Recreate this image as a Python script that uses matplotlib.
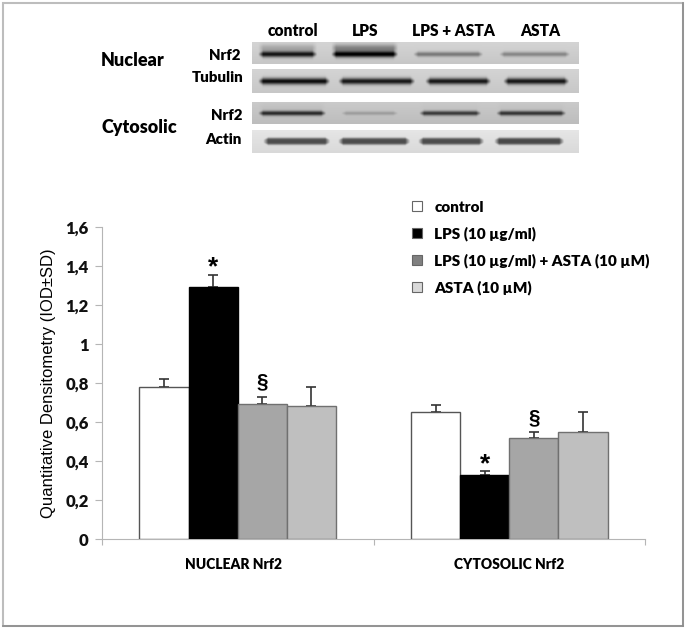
import numpy as np
import matplotlib
matplotlib.use('Agg')
import matplotlib.pyplot as plt
from matplotlib.patches import Patch, Rectangle

plt.rcParams['font.family'] = ['Lato', 'DejaVu Sans']

# bar chart data
groups = ['NUCLEAR Nrf2', 'CYTOSOLIC Nrf2']
treatments = ['control', 'LPS (10 µg/ml)', 'LPS (10 µg/ml) + ASTA (10 µM)', 'ASTA (10 µM)']
nuclear = [0.78, 1.29, 0.69, 0.68]
nuclear_sd = [0.04, 0.065, 0.04, 0.10]
cytosolic = [0.65, 0.33, 0.52, 0.55]
cytosolic_sd = [0.035, 0.017, 0.03, 0.10]
nuclear_marks = ['', '*', '§', '']
cytosolic_marks = ['', '*', '§', '']
yticks = [0, 0.2, 0.4, 0.6, 0.8, 1, 1.2, 1.4, 1.6]
yticklabels = ['0', '0,2', '0,4', '0,6', '0,8', '1', '1,2', '1,4', '1,6']

# western blot band strength, one value per lane
lanes = ['control', 'LPS', 'LPS + ASTA', 'ASTA']
blot_names = ['Nrf2', 'Tubulin', 'Nrf2', 'Actin']
nrf2_nuc = [0.9, 1.0, 0.42, 0.35]
tubulin = [0.95, 0.9, 0.9, 0.9]
nrf2_cyt = [0.8, 0.2, 0.72, 0.75]
actin = [0.66, 0.66, 0.66, 0.68]

bar_colors = ['white', 'black', '#a6a6a6', '#bfbfbf']
bar_edges = ['#555555', 'black', '#707070', '#707070']
legend_colors = ['white', 'black', '#808080', '#d9d9d9']

W, H = 686, 630
fig = plt.figure(figsize=(W / 100, H / 100), dpi=100)

# whole figure in pixel coordinates, for frame and blots
bg = fig.add_axes([0, 0, 1, 1])
bg.set_xlim(0, W)
bg.set_ylim(H, 0)
bg.axis('off')
bg.add_patch(Rectangle((2.5, 3), 680, 623, fill=False, ec='#bdbdbd', lw=1.5))
bg.plot([683, 683], [3, 626], color='#8c8c8c', lw=1.2)
bg.plot([2.5, 683], [626, 626], color='#8c8c8c', lw=1.2)


def draw_blot(top, bottom, center, thick, back, strength, starts, ends, power=2, halo=0.0):
    ys = np.arange(top, bottom, 0.5)
    xs = np.arange(252, 579, 0.5)
    img = np.full((len(ys), len(xs)), back, dtype=float)
    img += np.linspace(0.03, -0.02, len(ys))[:, None]
    for s, a, b in zip(strength, starts, ends):
        mask = np.clip((xs - a) / 5, 0, 1) * np.clip((b - xs) / 5, 0, 1)
        # bands get thinner towards the lane ends
        t = thick * (0.75 + 0.4 * s) * (0.45 + 0.55 * mask)
        prof = np.exp(-(np.abs(ys[:, None] - center) / t[None, :]) ** power)
        smear = np.exp(-((ys[:, None] - center + 6) / 4.0) ** 2) * halo * s ** 6
        img -= (prof * s * back + smear) * mask
    bg.imshow(np.clip(img, 0, 1), cmap='gray', vmin=0, vmax=1, aspect='auto', interpolation='bilinear',
              extent=[252, 579, bottom, top], zorder=1)


draw_blot(42, 64, 54, 2.6, 0.80, nrf2_nuc, [258, 331, 413, 499], [317, 398, 483, 570], 2, 0.3)
draw_blot(69, 93, 81, 2.8, 0.80, tubulin, [258, 338, 425, 503], [330, 415, 491, 569], 2)
draw_blot(102, 124, 113, 2.2, 0.76, nrf2_cyt, [258, 341, 419, 496], [326, 398, 481, 566], 2, 0.08)
draw_blot(130, 153, 141, 3.4, 0.87, actin, [263, 338, 418, 494], [330, 410, 484, 564], 4)
bg.set_xlim(0, W)
bg.set_ylim(H, 0)

for name, x in zip(lanes, [293, 365, 453, 540]):
    bg.text(x, 31, name, ha='center', va='center', fontsize=11.2, fontweight='heavy')
for name, x, y in zip(blot_names, [241, 244, 242, 242], [55, 78, 116, 140]):
    bg.text(x, y, name, ha='right', va='center', fontsize=10.8, fontweight='heavy')
bg.text(101, 60, 'Nuclear', va='center', fontsize=13, fontweight='heavy')
bg.text(101, 127, 'Cytosolic', va='center', fontsize=13, fontweight='heavy')

# bar chart
ax = fig.add_axes([102 / W, (H - 539) / H, 543 / W, 312 / H])
ax.patch.set_alpha(0)
ax.set_xlim(0, 2)
ax.set_ylim(0, 1.6)
width = 0.181
offsets = (np.arange(4) - 1.5) * width
centers = [0.5, 1.5]
for c, vals, sds, marks in zip(centers, [nuclear, cytosolic], [nuclear_sd, cytosolic_sd],
                               [nuclear_marks, cytosolic_marks]):
    for i in range(4):
        ax.bar(c + offsets[i], vals[i], width, color=bar_colors[i], edgecolor=bar_edges[i], lw=1.0, zorder=3)
        ax.errorbar(c + offsets[i], vals[i], yerr=[[0], [sds[i]]], color='#333333', elinewidth=1.2,
                    capsize=3.5, capthick=1.2, zorder=2)
        if marks[i] == '*':
            ax.text(c + offsets[i], vals[i] + sds[i] - 0.025, marks[i], ha='center', va='bottom',
                    fontsize=19, fontweight='bold', family='Liberation Sans')
        elif marks[i]:
            ax.text(c + offsets[i], vals[i] + sds[i] + 0.025, marks[i], ha='center', va='bottom',
                    fontsize=15, fontweight='bold', family='Liberation Sans')

for side in ['top', 'right']:
    ax.spines[side].set_visible(False)
for side in ['left', 'bottom']:
    ax.spines[side].set_color('#b5b5b5')
ax.set_yticks(yticks)
ax.set_yticklabels(yticklabels, fontsize=12, fontweight='heavy', color='#111111')
ax.tick_params(axis='y', length=5, color='#b5b5b5', pad=4.5)
ax.set_xticks([0, 1, 2])
ax.set_xticklabels([])
ax.tick_params(axis='x', length=4, color='#b5b5b5')
ax.set_xticks([0.485, 1.5], minor=True)
ax.set_xticklabels(groups, minor=True, fontsize=10, fontweight='heavy')
ax.tick_params(axis='x', which='minor', length=0, pad=14)
ax.set_ylabel('Quantitative Densitometry (IOD±SD)', fontsize=12, family='Liberation Sans', labelpad=7)

handles = [Patch(facecolor=f, edgecolor='#666666', lw=0.8) for f in legend_colors]
fig.legend(handles, treatments, loc='upper left', bbox_to_anchor=(407 / W, 1 - 196 / H), frameon=False,
           prop={'weight': 'heavy', 'size': 11}, handlelength=0.65, handleheight=0.65,
           handletextpad=0.85, labelspacing=0.82, borderpad=0.3, borderaxespad=0)

fig.savefig('out.png', dpi=100)
